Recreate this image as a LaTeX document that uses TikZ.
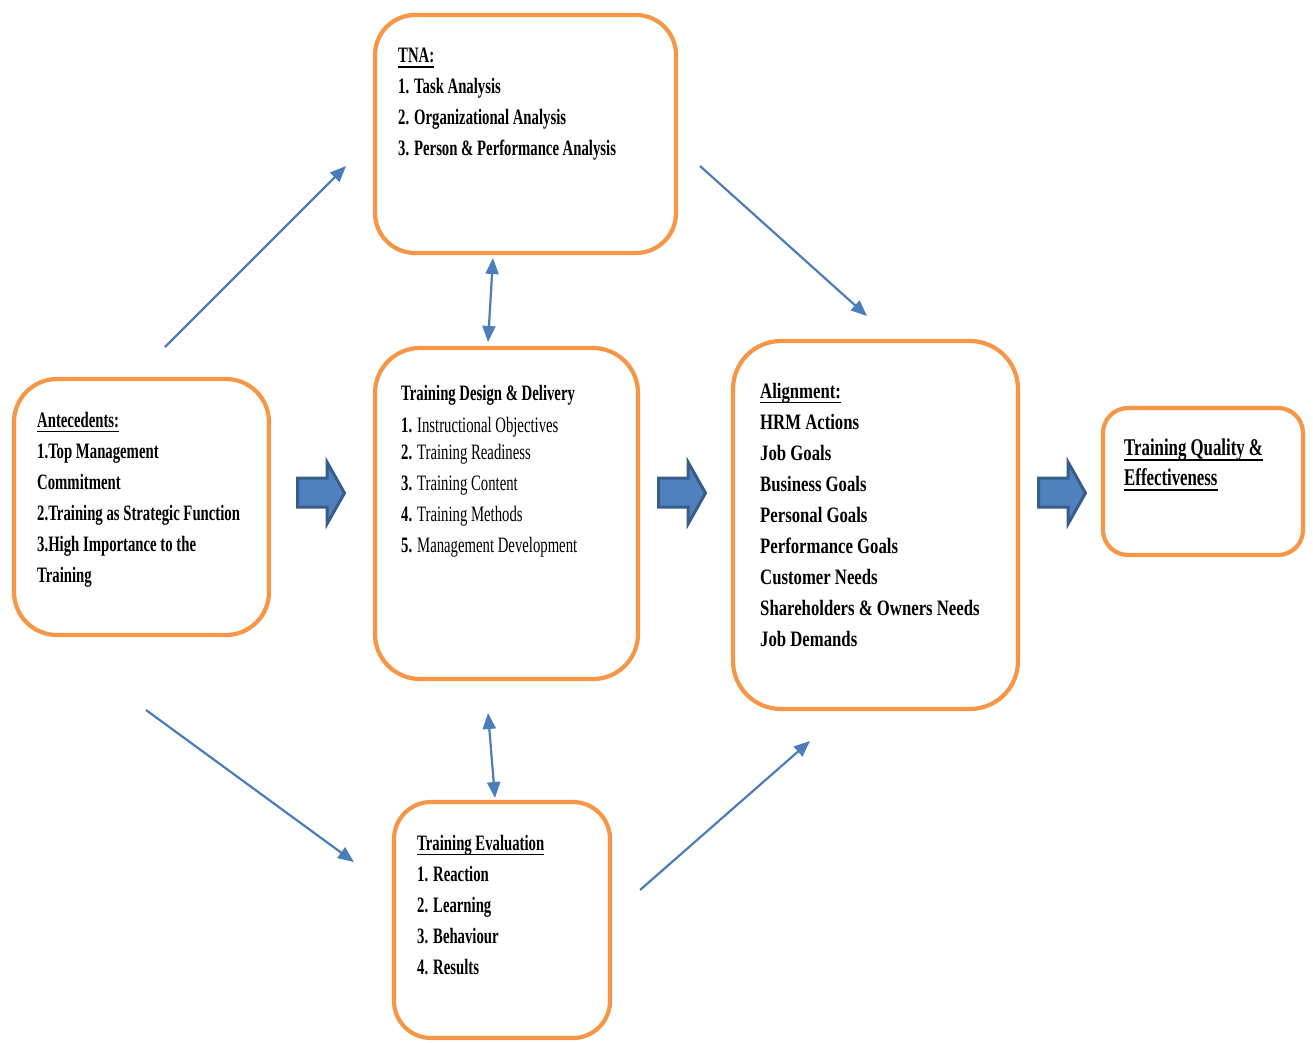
\documentclass[tikz,border=0pt]{standalone}
\usepackage{fontspec}
\setmainfont{Liberation Serif}[FakeStretch=0.67]
\newfontfamily\alignfont{Liberation Serif}[FakeStretch=0.76]
\newfontfamily\qualfont{Liberation Serif}[FakeStretch=0.70]
\usetikzlibrary{arrows.meta}

\definecolor{boxorange}{RGB}{247,150,70}
\definecolor{linkblue}{RGB}{74,126,187}
\definecolor{blockfill}{RGB}{79,129,189}
\definecolor{blockline}{RGB}{56,93,138}

\newcommand{\undl}[1]{\setbox0\hbox{#1}\rlap{\rule[-5pt]{\wd0}{1.6pt}}\box0}

\begin{document}
\begin{tikzpicture}[x=1pt,y=-1pt]

\tikzset{box/.style={draw=boxorange,line width=4.2pt,fill=white,rounded corners=#1,inner sep=0pt},
    link/.style={draw=linkblue,line width=2.2pt,-{Triangle[length=16pt,width=13pt]}},
    twoway/.style={draw=linkblue,line width=2.2pt,{Triangle[length=16pt,width=13pt]}-{Triangle[length=16pt,width=13pt]}},
    txt/.style={anchor=north west,inner sep=0pt,align=left,font=\fontsize{22}{31}\selectfont\bfseries},
    blockarrow/.style={fill=blockfill,draw=blockline,line width=3pt,line join=miter}}

\useasboundingbox (0,0) rectangle (1313,1042);

%% Boxes
\node[box=40pt,minimum width=301,minimum height=238] (tna) at (525.5,134) {};
\node[box=43pt,minimum width=255,minimum height=256] (ante) at (141.5,507) {};
\node[box=45pt,minimum width=263,minimum height=331] (design) at (506.5,513.5) {};
\node[box=48pt,minimum width=285,minimum height=368] (align) at (875.5,525) {};
\node[box=25pt,minimum width=200,minimum height=147] (quality) at (1203,481.5) {};
\node[box=37pt,minimum width=216,minimum height=236] (eval) at (502,920) {};

%% Texts
\node[txt] (tnatext) at (398,48) {\undl{TNA:}\\1. Task Analysis\\2. Organizational Analysis\\3. Person \& Performance Analysis};
\node[txt] (antetext) at (37,412) {\undl{Antecedents:}\\1.Top Management\\Commitment\\2.Training as Strategic Function\\3.High Importance to the\\Training};
\node[txt] (designtext) at (401,385) {Training Design \& Delivery\\[1pt]
    1. \mdseries Instructional Objectives\\[-4pt]
    2. \mdseries Training Readiness\\
    3. \mdseries Training Content\\
    4. \mdseries Training Methods\\
    5. \mdseries Management Development};
\node[txt,font=\fontsize{22}{31}\selectfont\bfseries\alignfont] (aligntext) at (760,383) {\undl{Alignment:}\\HRM Actions\\Job Goals\\Business Goals\\Personal Goals\\Performance Goals\\Customer Needs\\Shareholders \& Owners Needs\\Job Demands};
\node[txt,font=\fontsize{24}{30}\selectfont\bfseries\qualfont] (qualtext) at (1124,439) {\undl{Training Quality \&}\\\undl{Effectiveness}};
\node[txt] (evaltext) at (417,835) {\undl{Training Evaluation}\\1. Reaction\\2. Learning\\3. Behaviour\\4. Results};

%% Block arrows
\foreach \bx in {296,657,1037}{
    \draw[blockarrow] (\bx+1.5,478) -- (\bx+31,478) -- (\bx+31,462) -- (\bx+48.5,493) -- (\bx+31,524) -- (\bx+31,507) -- (\bx+1.5,507) -- cycle;
}

%% Links
\coordinate (ante up) at (165,347);
\coordinate (tna in) at (346,166);
\coordinate (tna out) at (700,166);
\coordinate (align top) at (867,316);
\coordinate (ante down) at (146,710);
\coordinate (eval in) at (354,862);
\coordinate (eval out) at (640,890);
\coordinate (align bottom) at (810,741);
\coordinate (tna low) at (493,258);
\coordinate (design high) at (488,342);
\coordinate (design low) at (488,713);
\coordinate (eval high) at (495,798);

\draw[link] (ante up) -- (tna in);
\draw[link] (tna out) -- (align top);
\draw[link] (ante down) -- (eval in);
\draw[link] (eval out) -- (align bottom);
\draw[twoway] (design high) -- (tna low);
\draw[twoway] (design low) -- (eval high);

\end{tikzpicture}
\end{document}
